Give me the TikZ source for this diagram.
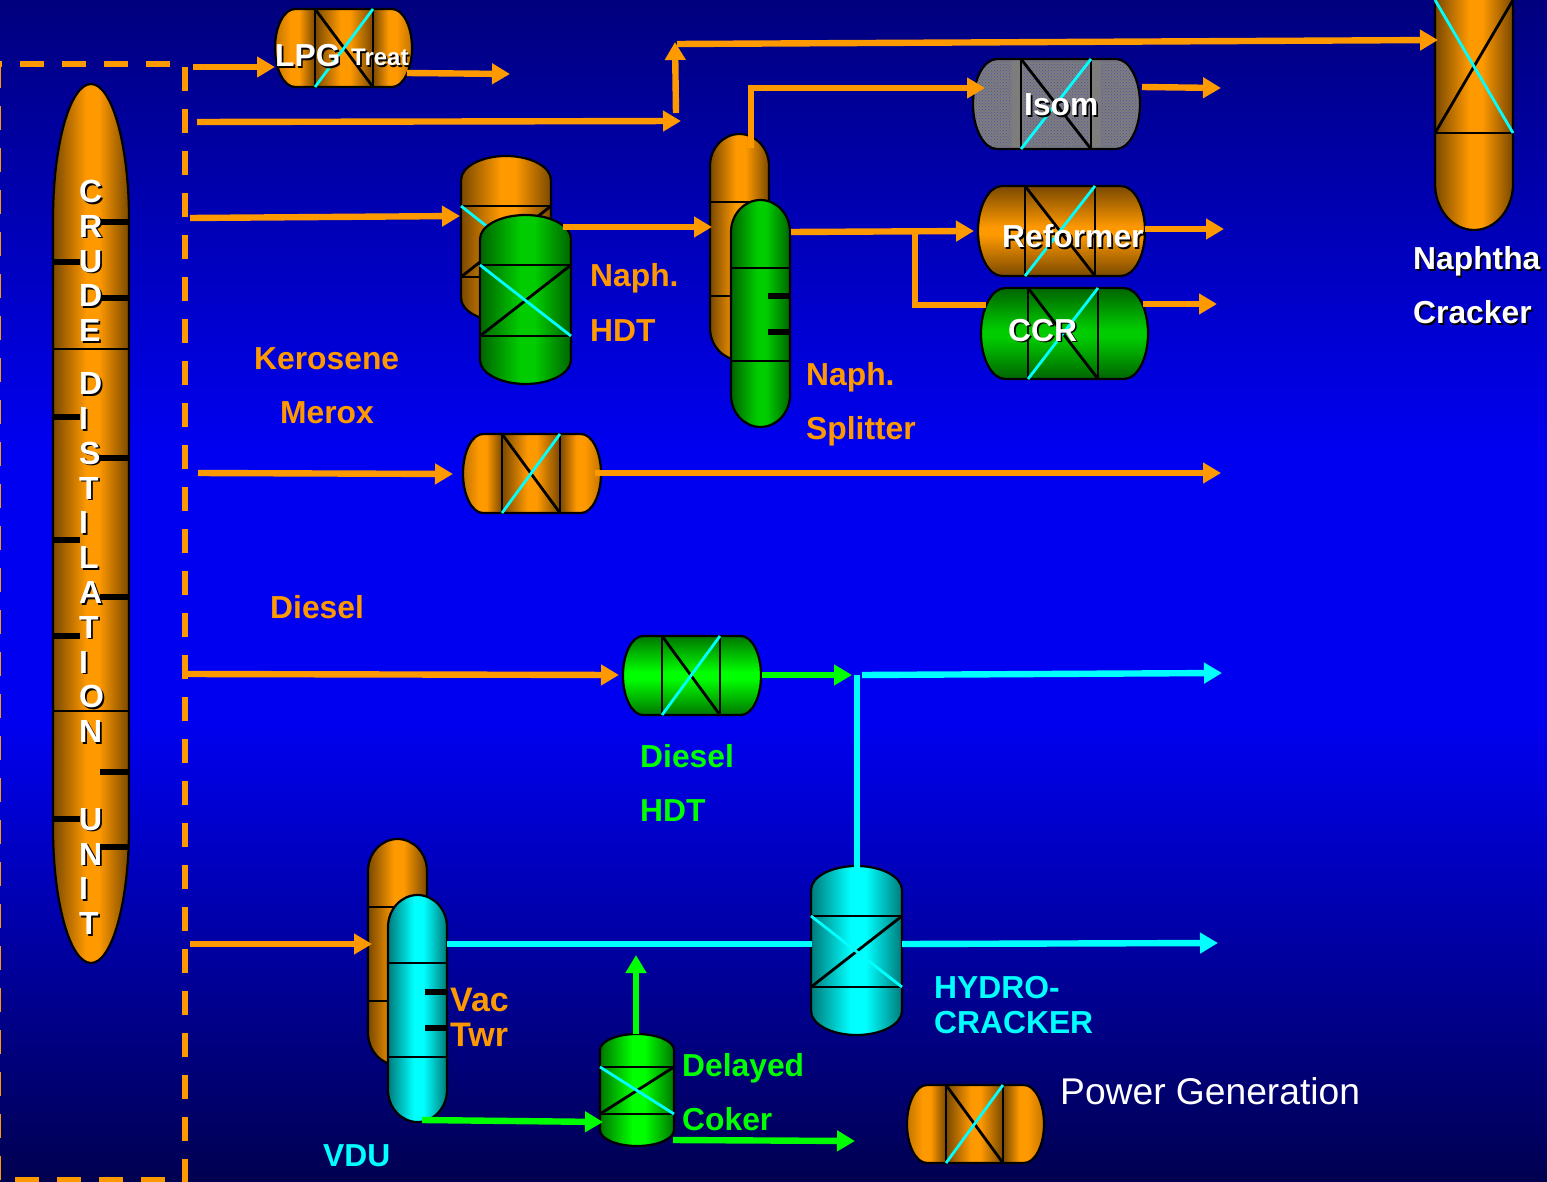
\documentclass[tikz,border=0pt]{standalone}
\usepackage{fontspec}
\setmainfont{Liberation Sans}
\usetikzlibrary{arrows.meta,patterns}
\definecolor{org}{RGB}{255,153,0}
\definecolor{orgd}{RGB}{122,73,0}
\definecolor{orgm}{RGB}{195,117,0}
\definecolor{grn}{RGB}{0,204,0}
\definecolor{grnd}{RGB}{0,100,0}
\definecolor{lim}{RGB}{0,255,0}
\definecolor{limd}{RGB}{0,118,0}
\definecolor{cya}{RGB}{0,255,255}
\definecolor{cyad}{RGB}{0,122,122}
\definecolor{isog}{RGB}{125,125,125}
\definecolor{isod}{RGB}{80,80,170}
\definecolor{bgt}{RGB}{0,0,125}
\definecolor{bgm}{RGB}{0,0,240}
\definecolor{bgb}{RGB}{0,0,80}
\newcommand\mkshade[2]{%
  \pgfdeclarehorizontalshading{h#1}{100bp}{color(0bp)=(#2); color(25bp)=(#2); color(47bp)=(#1); color(55bp)=(#1); color(75bp)=(#2); color(100bp)=(#2)}%
  \pgfdeclareverticalshading{v#1}{100bp}{color(0bp)=(#2); color(25bp)=(#2); color(48bp)=(#1); color(52bp)=(#1); color(75bp)=(#2); color(100bp)=(#2)}}
\mkshade{org}{orgd}
\mkshade{grn}{grnd}
\mkshade{lim}{limd}
\mkshade{cya}{cyad}
\pgfdeclarehorizontalshading{bandl}{100bp}{color(0bp)=(orgm); color(25bp)=(orgm); color(45bp)=(org); color(55bp)=(org); color(75bp)=(orgd); color(100bp)=(orgd)}
\pgfdeclarehorizontalshading{bandr}{100bp}{color(0bp)=(orgd); color(25bp)=(orgd); color(45bp)=(org); color(55bp)=(org); color(75bp)=(orgm); color(100bp)=(orgm)}
\newcommand\shd[1]{\leavevmode\rlap{\kern1.6pt\raisebox{-1.6pt}{\textcolor{black}{#1}}}#1}
\tikzset{
  outline/.style={draw=black,line width=2.2},
  inner line/.style={draw=black,line width=2},
  diag black/.style={draw=black,line width=2.8},
  diag cyan/.style={draw=cya,line width=2.8},
  stub/.style={draw=black,line width=6},
  flowtip/.style={-{Triangle[length=18pt,width=20pt]}},
  oflow/.style={draw=org,line width=6.4},
  gflow/.style={draw=lim,line width=6.4},
  cflow/.style={draw=cya,line width=6.4},
  frameline/.style={draw=org,line width=6.4,dash pattern=on 24pt off 18pt},
  lab/.style={anchor=base west,inner sep=0,font=\fontsize{31.8}{38}\selectfont\bfseries},
  olab/.style={lab,text=org},
  glab/.style={lab,text=lim},
  clab/.style={lab,text=cya},
  wlab/.style={lab,text=white},
  letters/.style={anchor=north west,inner sep=0,text=white,align=left,font=\fontsize{32}{34.8}\selectfont\bfseries},
}
% path of a horizontal drum: x0,y0,x1,y1,head
\newcommand\hpath[5]{({#1+#5},#2) -- ({#3-#5},#2)
  .. controls ({#3-.45*#5},#2) and (#3,{(#2+#4)/2-.275*(#4-#2)}) .. (#3,{(#2+#4)/2})
  .. controls (#3,{(#2+#4)/2+.275*(#4-#2)}) and ({#3-.45*#5},#4) .. ({#3-#5},#4)
  -- ({#1+#5},#4)
  .. controls ({#1+.45*#5},#4) and (#1,{(#2+#4)/2+.275*(#4-#2)}) .. (#1,{(#2+#4)/2})
  .. controls (#1,{(#2+#4)/2-.275*(#4-#2)}) and ({#1+.45*#5},#2) .. ({#1+#5},#2) -- cycle}
% path of a vertical vessel: x0,y0,x1,y1,head
\newcommand\vpath[5]{(#1,{#2+#5})
  .. controls (#1,{#2+.45*#5}) and ({(#1+#3)/2-.275*(#3-#1)},#2) .. ({(#1+#3)/2},#2)
  .. controls ({(#1+#3)/2+.275*(#3-#1)},#2) and (#3,{#2+.45*#5}) .. (#3,{#2+#5})
  -- (#3,{#4-#5})
  .. controls (#3,{#4-.45*#5}) and ({(#1+#3)/2+.275*(#3-#1)},#4) .. ({(#1+#3)/2},#4)
  .. controls ({(#1+#3)/2-.275*(#3-#1)},#4) and (#1,{#4-.45*#5}) .. (#1,{#4-#5}) -- cycle}
\newcommand\hnode[5]{\node[inner sep=0,outer sep=0,minimum width={(#4-#2)*1pt},minimum height={(#5-#3)*1pt}] (#1) at ({(#2+#4)/2},{(#3+#5)/2}) {};}
% horizontal drum with per-section shading: name,x0,y0,x1,y1,head,a,b
\newcommand\banddrum[8]{%
  \begin{scope}\clip \hpath{#2}{#3}{#4}{#5}{#6};
    \shade[shading=bandl] (#2,#3) rectangle (#7,#5);
    \shade[shading=horg] (#7,#3) rectangle (#8,#5);
    \shade[shading=bandr] (#8,#3) rectangle (#4,#5);
  \end{scope}
  \drumlines{#1}{#2}{#3}{#4}{#5}{#6}{#7}{#8}}
\newcommand\drumlines[8]{%
  \draw[outline] \hpath{#2}{#3}{#4}{#5}{#6};
  \draw[inner line] (#7,#3) -- (#7,#5) (#8,#3) -- (#8,#5);
  \draw[diag black] (#7,#3) -- (#8,#5);
  \draw[diag cyan] (#7,#5) -- (#8,#3);
  \hnode{#1}{#2}{#3}{#4}{#5}}
% horizontal drum shaded top to bottom: name,x0,y0,x1,y1,head,a,b + colour set before
\newcommand\vsdrum[8]{%
  \shade[shading=v\cbright] \hpath{#2}{#3}{#4}{#5}{#6};
  \drumlines{#1}{#2}{#3}{#4}{#5}{#6}{#7}{#8}}
% vertical vessel: name,x0,y0,x1,y1,head,line a,line b + colour set before
\newcommand\vess[8]{%
  \shade[shading=h\cbright] \vpath{#2}{#3}{#4}{#5}{#6};
  \draw[outline] \vpath{#2}{#3}{#4}{#5}{#6};
  \draw[inner line] (#2,#7) -- (#4,#7) (#2,#8) -- (#4,#8);
  \hnode{#1}{#2}{#3}{#4}{#5}}
\newcommand\vxx[4]{%
  \draw[diag black] (#1,#4) -- (#2,#3);
  \draw[diag cyan] (#1,#3) -- (#2,#4);}
\begin{document}
\begin{tikzpicture}[x=1pt,y=-1pt]
\useasboundingbox (0,0) rectangle (1547,1182);
\clip (0,0) rectangle (1547,1182);
% background
\shade[top color=bgt,bottom color=bgm] (0,0) rectangle (1547,451);
\fill[bgm] (0,450) rectangle (1547,721);
\shade[top color=bgm,bottom color=bgb] (0,720) rectangle (1547,1182);
% battery limit
\draw[frameline] (170,64) -- (0,64);
\draw[frameline] (185,67) -- (185,1182);
\draw[frameline] (-2,64) -- (-2,1182);
\draw[frameline] (15,1180) -- (170,1180);

% crude unit
\def\cbright{org}
\vess{crude}{53}{84}{129}{963}{135}{349}{711}
\foreach \yy in {222,298,458,597,772,847} \draw[stub] (100,\yy) -- (128,\yy);
\foreach \yy in {262,417,540,636,819} \draw[stub] (54,\yy) -- (80,\yy);
\node[letters] (lcrude) at (79,180) {\shd{C}\\\shd{R}\\\shd{U}\\\shd{D}\\\shd{E}};
\node[letters] (ldist) at (79,372.5) {\shd{D}\\\shd{I}\\\shd{S}\\\shd{T}\\\shd{I}\\\shd{L}\\\shd{A}\\\shd{T}\\\shd{I}\\\shd{O}\\\shd{N}};
\node[letters] (lunit) at (79,808) {\shd{U}\\\shd{N}\\\shd{I}\\\shd{T}};

% LPG treat
\banddrum{lpg}{275}{9}{412}{87}{20}{315}{373}
% naphtha HDT pair
\def\cbright{org}
\vess{hdta}{461}{156}{551}{322}{24}{206}{277}
\vxx{461}{551}{206}{277}
\def\cbright{grn}
\vess{hdtb}{480}{215}{571}{384}{24}{265}{336}
\vxx{480}{571}{265}{336}
% splitter pair
\def\cbright{org}
\vess{spla}{710}{134}{769}{360}{32}{202}{296}
\def\cbright{grn}
\vess{splb}{731}{200}{790}{427}{32}{268}{361}
\foreach \yy in {296,332} \draw[stub] (768,\yy) -- (789,\yy);
% isom
\begin{scope}\clip \hpath{973}{59}{1140}{149}{24};
  \fill[isog] (973,59) rectangle (1140,149);
  \fill[pattern=crosshatch dots,pattern color=isod] (973,59) rectangle (1012,149);
  \fill[pattern=crosshatch dots,pattern color=isod] (1021,59) rectangle (1091,149);
  \fill[pattern=crosshatch dots,pattern color=isod] (1100,59) rectangle (1140,149);
\end{scope}
\drumlines{isom}{973}{59}{1140}{149}{24}{1021}{1091}
% reformer and CCR
\def\cbright{org}
\vsdrum{ref}{978}{186}{1145}{276}{24}{1025}{1095}
\def\cbright{grn}
\vsdrum{ccr}{981}{288}{1148}{379}{24}{1028}{1098}
% merox
\banddrum{merox}{463}{434}{601}{513}{20}{502}{560}
% diesel HDT
\def\cbright{lim}
\vsdrum{dhdt}{623}{636}{761}{715}{20}{662}{720}
% naphtha cracker
\def\cbright{org}
\vess{crk}{1435}{-100}{1513}{230}{46}{133}{133}
\vxx{1435}{1513}{0}{133}
% vacuum unit
\def\cbright{org}
\vess{vdua}{368}{839}{427}{1065}{32}{907}{1001}
\def\cbright{cya}
\vess{vdub}{388}{895}{447}{1122}{32}{963}{1057}
\foreach \yy in {992,1028} \draw[stub] (425,\yy) -- (446,\yy);
% hydrocracker
\def\cbright{cya}
\vess{hcr}{811}{866}{902}{1035}{24}{916}{987}
\vxx{811}{902}{916}{987}
% coker
\def\cbright{lim}
\vess{cok}{600}{1034}{674}{1146}{16}{1067}{1114}
\vxx{600}{674}{1067}{1114}
% power
\banddrum{pow}{907}{1085}{1044}{1163}{20}{946}{1003}

% connector ends
\coordinate (s1) at (193,67);
\coordinate (o1) at (407,73);   \coordinate (o1e) at (510,74);
\coordinate (s2) at (197,122);  \coordinate (j2) at (681,121);
\coordinate (u2) at (676,113);  \coordinate (t2) at (675,42);
\coordinate (t3) at (677,44);   \coordinate (t3e) at (1438,40);
\coordinate (i1) at (751,148);  \coordinate (i2) at (751,88);  \coordinate (i3) at (985,88);
\coordinate (io) at (1142,87);  \coordinate (ioe) at (1221,88);
\coordinate (s3) at (190,218);  \coordinate (s3e) at (460,216);
\coordinate (n1) at (563,227);  \coordinate (n1e) at (712,227);
\coordinate (n2) at (791,232);  \coordinate (n2e) at (974,231);
\coordinate (b1) at (915,234);  \coordinate (b2) at (915,305);  \coordinate (b3) at (986,305);
\coordinate (ro) at (1145,229); \coordinate (roe) at (1224,229);
\coordinate (co) at (1143,304); \coordinate (coe) at (1217,304);
\coordinate (s4) at (198,473);  \coordinate (s4e) at (453,474);
\coordinate (m1) at (595,473);  \coordinate (m1e) at (1221,473);
\coordinate (s5) at (187,674);  \coordinate (s5e) at (619,675);
\coordinate (d1) at (762,675);  \coordinate (d1e) at (852,675);
\coordinate (d2) at (862,675);  \coordinate (d2e) at (1222,673);
\coordinate (h1) at (857,675);  \coordinate (h1e) at (857,868);
\coordinate (s6) at (190,944);  \coordinate (s6e) at (372,944);
\coordinate (v1) at (447,944);  \coordinate (v1e) at (812,944);
\coordinate (h2) at (902,944);  \coordinate (h2e) at (1218,943);
\coordinate (k1) at (636,1034); \coordinate (k1e) at (636,955);
\coordinate (v2) at (422,1120); \coordinate (v2e) at (603,1122);
\coordinate (k2) at (673,1140); \coordinate (k2e) at (855,1141);

% connectors
\draw[oflow,flowtip] (s1) -- (s1 -| lpg.west);
\draw[oflow,flowtip] (o1) -- (o1e);
\draw[oflow,flowtip] (s2) -- (j2);
\draw[oflow,flowtip] (u2) -- (t2);
\draw[oflow,flowtip] (t3) -- (t3e);
\draw[oflow,flowtip] (i1) -- (i2) -- (i3);
\draw[oflow,flowtip] (io) -- (ioe);
\draw[oflow,flowtip] (s3) -- (s3e);
\draw[oflow,flowtip] (n1) -- (n1e);
\draw[oflow,flowtip] (n2) -- (n2e);
\draw[oflow] (b1) -- (b2) -- (b3);
\draw[oflow,flowtip] (ro) -- (roe);
\draw[oflow,flowtip] (co) -- (coe);
\draw[oflow,flowtip] (s4) -- (s4e);
\draw[oflow,flowtip] (m1) -- (m1e);
\draw[oflow,flowtip] (s5) -- (s5e);
\draw[gflow,flowtip] (d1) -- (d1e);
\draw[cflow,flowtip] (d2) -- (d2e);
\draw[cflow] (h1) -- (h1e);
\draw[oflow,flowtip] (s6) -- (s6e);
\draw[cflow] (v1) -- (v1e);
\draw[cflow,flowtip] (h2) -- (h2e);
\draw[gflow,flowtip] (k1) -- (k1e);
\draw[gflow,flowtip] (v2) -- (v2e);
\draw[gflow,flowtip] (k2) -- (k2e);

% labels
\node[wlab] (tlpg) at (275,66.5) {\shd{LPG}};
\node[wlab,font=\fontsize{24}{28}\selectfont\bfseries] (ttreat) at (351,66) {\shd{Treat}};
\node[wlab] (tisom) at (1024,116) {\shd{Isom}};
\node[wlab] (tref) at (1002,248) {\shd{Reformer}};
\node[wlab] (tccr) at (1008,341) {\shd{CCR}};
\node[wlab] (tnap) at (1413,270) {\shd{Naphtha}};
\node[wlab] (tcrk) at (1413,323.5) {\shd{Cracker}};
\node[olab] (tn1) at (590,287) {Naph.};
\node[olab] (tn2) at (590,341) {HDT};
\node[olab] (tk1) at (254,369) {Kerosene};
\node[olab] (tk2) at (280,423) {Merox};
\node[olab] (ts1) at (806,385) {Naph.};
\node[olab] (ts2) at (806,439) {Splitter};
\node[olab] (td0) at (270,618) {Diesel};
\node[glab] (td1) at (640,767) {Diesel};
\node[glab] (td2) at (640,821) {HDT};
\node[olab,font=\fontsize{34}{40}\selectfont\bfseries] (tv1) at (450,1011) {Vac};
\node[olab,font=\fontsize{34}{40}\selectfont\bfseries] (tv2) at (450,1046) {Twr};
\node[clab] (tvdu) at (323,1166) {VDU};
\node[glab] (tc1) at (682,1076) {Delayed};
\node[glab] (tc2) at (682,1130) {Coker};
\node[clab] (th1) at (934,998) {HYDRO-};
\node[clab] (th2) at (934,1033) {CRACKER};
\node[anchor=base west,inner sep=0,text=white,font=\fontsize{37.2}{44}\selectfont] (tpow) at (1060,1104) {Power Generation};
\end{tikzpicture}
\end{document}
